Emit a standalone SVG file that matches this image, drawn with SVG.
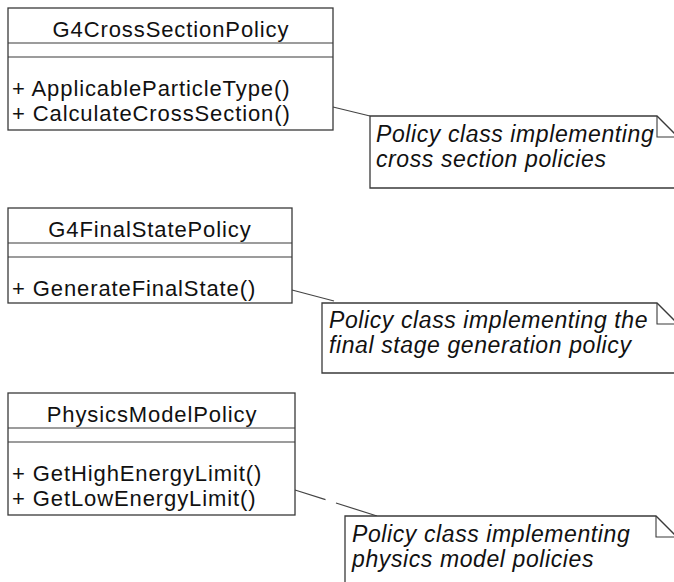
<svg xmlns="http://www.w3.org/2000/svg" width="674" height="582" viewBox="0 0 674 582">
  <style>
    .box { fill: #ffffff; stroke: #3a3a3a; stroke-width: 1.3; }
    .div { stroke: #3a3a3a; stroke-width: 1.2; }
    .note { fill: #ffffff; stroke: #3a3a3a; stroke-width: 1.3; }
    .fold { fill: none; stroke: #3a3a3a; stroke-width: 1.1; }
    .conn { fill: none; stroke: #444444; stroke-width: 1.2; }
    .name { font-family: "Liberation Sans", Arial, sans-serif; font-size: 22px; letter-spacing: 0.9px; fill: #111111; text-anchor: middle; }
    .op { font-family: "Liberation Sans", Arial, sans-serif; font-size: 22px; letter-spacing: 0.9px; fill: #111111; }
    .ntext { font-family: "Liberation Sans", Arial, sans-serif; font-size: 23px; font-style: italic; letter-spacing: 0.6px; fill: #111111; }
  </style>
  <rect x="0" y="0" width="674" height="582" fill="#ffffff"/>

  <g id="connectors">
    <line class="conn" x1="333" y1="107" x2="370" y2="116"/>
    <line class="conn" x1="292" y1="290" x2="334" y2="301"/>
    <line class="conn" x1="295" y1="490" x2="377" y2="516" stroke-dasharray="32 11 100"/>
  </g>

  <g id="G4CrossSectionPolicy">
    <rect class="box" x="8" y="8" width="325" height="122"/>
    <line class="div" x1="8" y1="43" x2="333" y2="43"/>
    <line class="div" x1="8" y1="57" x2="333" y2="57"/>
    <text class="name" x="171" y="37">G4CrossSectionPolicy</text>
    <text class="op" x="12" y="96">+ ApplicableParticleType()</text>
    <text class="op" x="12" y="121">+ CalculateCrossSection()</text>
  </g>

  <g id="note1">
    <path class="note" d="M370,116 H657 L678,137 V188 H370 Z"/>
    <path class="fold" d="M657,116 V137 H678"/>
    <text class="ntext" x="376" y="142">Policy class implementing</text>
    <text class="ntext" x="376" y="167">cross section policies</text>
  </g>

  <g id="G4FinalStatePolicy">
    <rect class="box" x="8" y="208" width="284" height="95"/>
    <line class="div" x1="8" y1="243" x2="292" y2="243"/>
    <line class="div" x1="8" y1="257" x2="292" y2="257"/>
    <text class="name" x="150" y="237">G4FinalStatePolicy</text>
    <text class="op" x="12" y="296">+ GenerateFinalState()</text>
  </g>

  <g id="note2">
    <path class="note" d="M322,303 H657 L678,324 V373 H322 Z"/>
    <path class="fold" d="M657,303 V324 H678"/>
    <text class="ntext" x="329" y="328">Policy class implementing the</text>
    <text class="ntext" x="329" y="353">final stage generation policy</text>
  </g>

  <g id="PhysicsModelPolicy">
    <rect class="box" x="8" y="393" width="287" height="122"/>
    <line class="div" x1="8" y1="428" x2="295" y2="428"/>
    <line class="div" x1="8" y1="442" x2="295" y2="442"/>
    <text class="name" x="152" y="422">PhysicsModelPolicy</text>
    <text class="op" x="12" y="481">+ GetHighEnergyLimit()</text>
    <text class="op" x="12" y="506">+ GetLowEnergyLimit()</text>
  </g>

  <g id="note3">
    <path class="note" d="M345,516 H656 L677,537 V590 H345 Z"/>
    <path class="fold" d="M656,516 V537 H677"/>
    <text class="ntext" x="352" y="542">Policy class implementing</text>
    <text class="ntext" x="352" y="567">physics model policies</text>
  </g>
</svg>
